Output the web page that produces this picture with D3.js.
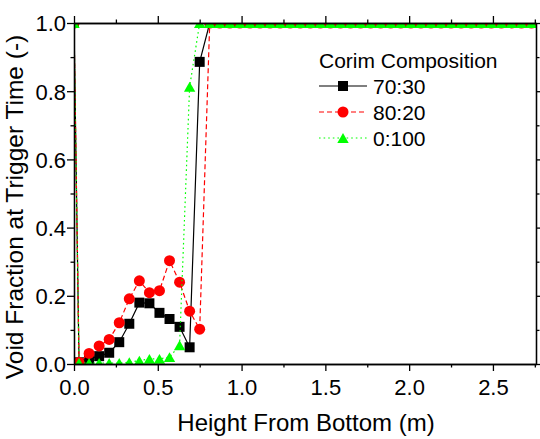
<!DOCTYPE html>
<html><head><meta charset="utf-8">
<script src="https://cdn.jsdelivr.net/npm/d3@7"></script>
<style>
body{margin:0;background:#fff;}
text{font-family:"Liberation Sans",Arial,sans-serif;fill:#000;}
</style></head>
<body><svg id="c" width="540" height="439"></svg>
<script>
// ---- data ----
const heights = [0, 0.03, 0.09, 0.15, 0.21, 0.27, 0.33, 0.39, 0.45, 0.51, 0.57, 0.63, 0.69, 0.75,
  0.81, 0.87, 0.93, 0.99, 1.05, 1.11, 1.17, 1.23, 1.29, 1.35, 1.41, 1.47, 1.53, 1.59, 1.65, 1.71,
  1.77, 1.83, 1.89, 1.95, 2.01, 2.07, 2.13, 2.19, 2.25, 2.31, 2.37, 2.43, 2.49, 2.55, 2.61, 2.67, 2.73, 2.79];
const void7030 = [1, 0.005, 0.015, 0.023, 0.033, 0.064, 0.118, 0.180, 0.178, 0.150, 0.132, 0.109, 0.049, 0.886,
  1, 1, 1, 1, 1, 1, 1, 1, 1, 1, 1, 1, 1, 1, 1, 1, 1, 1, 1, 1, 1, 1, 1, 1, 1, 1, 1, 1, 1, 1, 1, 1, 1, 1];
const void8020 = [1, 0.005, 0.031, 0.053, 0.072, 0.121, 0.191, 0.244, 0.209, 0.215, 0.303, 0.240, 0.155, 0.102,
  1, 1, 1, 1, 1, 1, 1, 1, 1, 1, 1, 1, 1, 1, 1, 1, 1, 1, 1, 1, 1, 1, 1, 1, 1, 1, 1, 1, 1, 1, 1, 1, 1, 1];
const void0100 = [1, 0.003, 0.003, 0.003, 0.003, 0.003, 0.005, 0.010, 0.015, 0.015, 0.020, 0.055, 0.813, 1,
  1, 1, 1, 1, 1, 1, 1, 1, 1, 1, 1, 1, 1, 1, 1, 1, 1, 1, 1, 1, 1, 1, 1, 1, 1, 1, 1, 1, 1, 1, 1, 1, 1, 1];
const seriesNames = ["70:30", "80:20", "0:100"];
const xTicks = [0, 0.5, 1.0, 1.5, 2.0, 2.5];
const xMinor = [0.25, 0.75, 1.25, 1.75, 2.25, 2.75];
const yTicks = [0, 0.2, 0.4, 0.6, 0.8, 1.0];
const yMinor = [0.1, 0.3, 0.5, 0.7, 0.9];

// ---- layout ----
const L = 74, R = 536, T = 23, B = 364;
const svg = d3.select("#c");
const x = d3.scaleLinear().domain([0, 2.757]).range([L, R]);
const y = d3.scaleLinear().domain([0, 1]).range([B, T]);

// triangle centred on its bounding box (Origin style)
const triBox = {
  draw(ctx, size) {
    const s = Math.sqrt(size * 4 / Math.sqrt(3));
    const h = s * Math.sqrt(3) / 2;
    ctx.moveTo(0, -h / 2);
    ctx.lineTo(s / 2, h / 2);
    ctx.lineTo(-s / 2, h / 2);
    ctx.closePath();
  }
};

const styles = [
  {color:"#000000", dash:null, sym:d3.symbolSquare, size:100},
  {color:"#ff0000", dash:"5,3", sym:d3.symbolCircle, size:95},
  {color:"#00ff00", dash:"1.6,3", sym:triBox, size:56}
];
const allSeries = [void7030, void8020, void0100];

svg.append("clipPath").attr("id","clip").append("rect")
  .attr("x", L).attr("y", T).attr("width", R - L).attr("height", B - T);

const plot = svg.append("g").attr("clip-path","url(#clip)");
const line = d3.line().x(d => x(d[0])).y(d => y(d[1]));

allSeries.forEach((vals, i) => {
  const st = styles[i];
  const pts = heights.map((h, j) => [h, vals[j]]);
  plot.append("path").datum(pts).attr("d", line)
    .attr("fill","none").attr("stroke", st.color).attr("stroke-width", 1.2)
    .attr("stroke-dasharray", st.dash);
  plot.selectAll(null).data(pts).enter().append("path")
    .attr("d", d3.symbol().type(st.sym).size(st.size)())
    .attr("transform", d => `translate(${x(d[0])},${y(d[1])})`)
    .attr("fill", st.color);
});

// ---- axes ----
const fmt = d3.format(".1f");
function ax(gen, tv, len, t) {
  return gen.tickValues(tv).tickSizeInner(len).tickSizeOuter(0).tickFormat(t);
}
const fs = "22px";
const gB = svg.append("g").attr("transform",`translate(0,${B})`).call(ax(d3.axisBottom(x), xTicks, 7, fmt));
svg.append("g").attr("transform",`translate(0,${B})`).call(ax(d3.axisBottom(x), xMinor, 3.5, ""));
const gT = svg.append("g").attr("transform",`translate(0,${T})`).call(ax(d3.axisTop(x), xTicks, 7, ""));
svg.append("g").attr("transform",`translate(0,${T})`).call(ax(d3.axisTop(x), xMinor, 3.5, ""));
const gL = svg.append("g").attr("transform",`translate(${L},0)`).call(ax(d3.axisLeft(y), yTicks, 7, fmt));
svg.append("g").attr("transform",`translate(${L},0)`).call(ax(d3.axisLeft(y), yMinor, 3.5, ""));
const gR = svg.append("g").attr("transform",`translate(${R},0)`).call(ax(d3.axisRight(y), yTicks, 7, ""));
svg.append("g").attr("transform",`translate(${R},0)`).call(ax(d3.axisRight(y), yMinor, 3.5, ""));
svg.selectAll(".domain").attr("stroke","#000").attr("stroke-width",1.3);
svg.selectAll(".tick line").attr("stroke","#000").attr("stroke-width",1.3);
svg.selectAll(".tick text").style("font-size", fs).style("font-family","'Liberation Sans',Arial,sans-serif").attr("fill","#000");
gB.selectAll(".tick text").attr("dy", null).attr("y", 31);
gL.selectAll(".tick text").attr("x", -8).attr("dy", "0.36em");

// ---- titles ----
svg.append("text").attr("x", 306).attr("y", 431).attr("text-anchor","middle")
  .style("font-size","24px").text("Height From Bottom (m)");
svg.append("text").attr("transform","translate(23,207) rotate(-90)").attr("text-anchor","middle")
  .style("font-size","24.5px").text("Void Fraction at Trigger Time (-)");

// ---- legend ----
const lg = svg.append("g");
lg.append("text").attr("x", 319).attr("y", 68).style("font-size","21px").text("Corim Composition");
seriesNames.forEach((n, i) => {
  const st = styles[i];
  const ly = 86 + i * 26;
  lg.append("line").attr("x1", 319).attr("x2", 367).attr("y1", ly).attr("y2", ly)
    .attr("stroke", st.color).attr("stroke-width", 1.2).attr("stroke-dasharray", st.dash);
  lg.append("path").attr("d", d3.symbol().type(st.sym).size(st.size)())
    .attr("transform", `translate(343,${ly})`).attr("fill", st.color);
  lg.append("text").attr("x", 373).attr("y", ly + 7.5).style("font-size","21px").text(n);
});
</script></body></html>
